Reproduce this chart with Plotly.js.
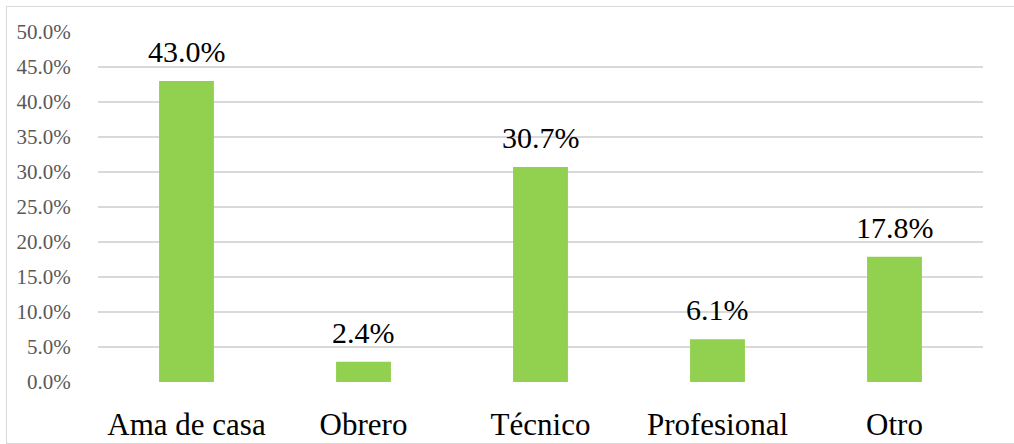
<!DOCTYPE html>
<html><head><meta charset="utf-8">
<script src="https://cdn.plot.ly/plotly-3.0.1.min.js"></script>
<style>
html,body{margin:0;padding:0;background:#fff;}
#wrap{position:relative;width:1014px;height:444px;overflow:hidden;}
#chart{width:1014px;height:444px;}
#frame{position:absolute;left:6px;top:6px;width:1020px;height:436px;border:1px solid #d9d9d9;pointer-events:none;}
</style></head>
<body>
<div id="wrap"><div id="chart"></div><div id="frame"></div></div>
<script>
const categories = ["Ama de casa", "Obrero", "Técnico", "Profesional", "Otro"];
const values = [43.0, 2.9, 30.7, 6.1, 17.9];
const labels = ["43.0%", "2.4%", "30.7%", "6.1%", "17.8%"];
const yTicks = [0, 5, 10, 15, 20, 25, 30, 35, 40, 45, 50];

const serif = "Liberation Serif, Times New Roman, serif";
const trace = {
  type: "bar",
  x: categories,
  y: values,
  marker: {color: "#92D050"},
  hoverinfo: "skip"
};
const annotations = categories.map((c, i) => ({
  x: c, y: values[i], xref: "x", yref: "y",
  text: labels[i], showarrow: false, yanchor: "bottom", yshift: 11,
  font: {family: serif, size: 30, color: "#000"}
}));
const layout = {
  width: 1014, height: 444,
  margin: {l: 98, r: 31, t: 32, b: 62},
  paper_bgcolor: "#fff", plot_bgcolor: "#fff",
  bargap: 0.69,
  showlegend: false,
  font: {family: serif},
  xaxis: {
    type: "category",
    showgrid: false, showline: false, zeroline: false,
    ticks: "outside", ticklen: 15, tickcolor: "rgba(0,0,0,0)",
    tickfont: {family: serif, size: 31, color: "#000"}
  },
  yaxis: {
    range: [0, 50],
    tickvals: yTicks,
    ticktext: yTicks.map(v => v.toFixed(1) + "%"),
    showgrid: true, gridcolor: "#d9d9d9", gridwidth: 1.5,
    zeroline: false, showline: false,
    ticks: "outside", ticklen: 22, tickcolor: "rgba(0,0,0,0)",
    tickfont: {family: serif, size: 21, color: "#595959"}
  },
  annotations: annotations
};
Plotly.newPlot("chart", [trace], layout, {staticPlot: true, displayModeBar: false});
</script>
</body></html>
